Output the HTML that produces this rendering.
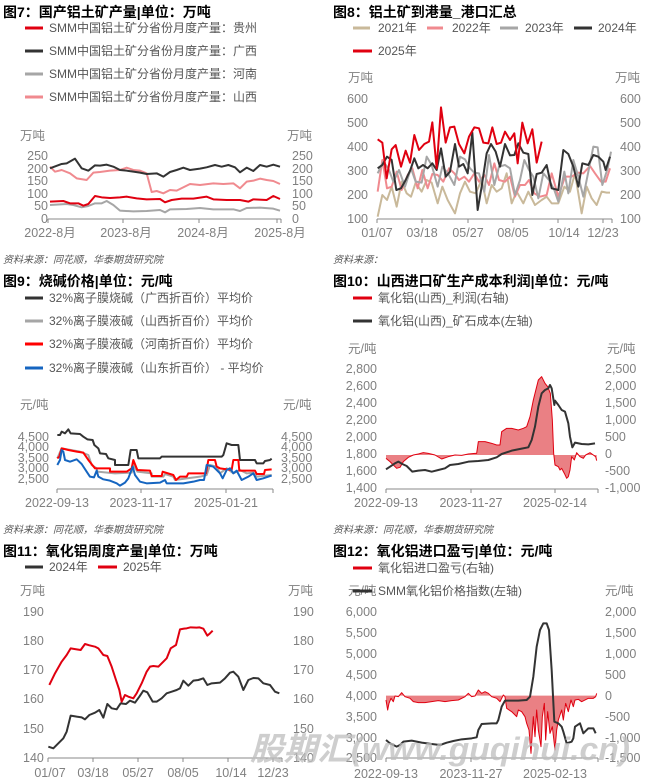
<!DOCTYPE html>
<html><head><meta charset="utf-8"><style>
body{margin:0;background:#fff}
svg{display:block}
text{font-family:"Liberation Sans","Noto Sans CJK SC",sans-serif}
.t{font-size:14px;font-weight:bold;fill:#000}
.l{font-size:12px;fill:#555}
.a{font-size:12.5px;fill:#808080}
.s{font-size:10px;fill:#555;font-style:italic}
polyline{fill:none;stroke-width:2;vector-effect:non-scaling-stroke;stroke-linejoin:round}
.ax{stroke:#888;stroke-width:1;vector-effect:non-scaling-stroke;fill:none}
</style></head><body>
<svg width="650" height="782" viewBox="0 0 650 782" xmlns="http://www.w3.org/2000/svg">
<!-- ===== Chart 7 ===== -->
<text class="t" x="3" y="17">图7：国产铝土矿产量|单位：万吨</text>
<g stroke-width="3">
<line x1="25" y1="28" x2="43" y2="28" stroke="#e00010" stroke-width="3"/>
<line x1="25" y1="51" x2="43" y2="51" stroke="#333" stroke-width="3"/>
<line x1="25" y1="74" x2="43" y2="74" stroke="#a6a6a6" stroke-width="3"/>
<line x1="25" y1="97" x2="43" y2="97" stroke="#f08a8f" stroke-width="3"/>
</g>
<text class="l" x="49" y="32">SMM中国铝土矿分省份月度产量：贵州</text>
<text class="l" x="49" y="55">SMM中国铝土矿分省份月度产量：广西</text>
<text class="l" x="49" y="78">SMM中国铝土矿分省份月度产量：河南</text>
<text class="l" x="49" y="101">SMM中国铝土矿分省份月度产量：山西</text>
<text class="a" x="20" y="140">万吨</text><text class="a" x="287" y="140">万吨</text>
<g class="a" text-anchor="end"><text x="48" y="160">250</text><text x="48" y="173">200</text><text x="48" y="185">150</text><text x="48" y="198">100</text><text x="48" y="210">50</text><text x="48" y="223">0</text></g>
<g class="a"><text x="292" y="160">250</text><text x="292" y="173">200</text><text x="292" y="185">150</text><text x="292" y="198">100</text><text x="292" y="210">50</text><text x="292" y="223">0</text></g>
<path class="ax" d="M48 219H281M48 219v4M123 219v4M199 219v4M277 219v4M281 219v4"/>
<g class="a" text-anchor="middle"><text x="50" y="237">2022-8月</text><text x="126" y="237">2023-8月</text><text x="203" y="237">2024-8月</text><text x="280" y="237">2025-8月</text></g>
<g transform="scale(0.33333)">
<polyline stroke="#a6a6a6" points="150,615 200,612 220,615 245,622 265,618 285,610 305,610 320,603 340,615 360,632 400,634 440,633 480,630 495,637 510,628 560,627 600,624 640,628 700,628 720,633 740,624 780,623 820,626 840,632"/>
<polyline stroke="#f08a8f" points="150,500 165,515 185,510 210,520 230,535 260,540 280,518 300,516 330,512 360,510 380,503 400,510 420,512 440,520 455,576 470,573 490,580 510,570 530,572 570,552 600,555 640,550 670,552 700,550 720,565 740,545 760,542 780,536 800,540 820,543 840,552"/>
<polyline stroke="#333" points="150,505 185,492 200,490 225,476 245,505 265,512 285,496 300,497 320,494 340,500 360,510 380,512 400,515 420,518 440,522 470,520 490,530 510,516 530,510 550,503 570,510 600,506 620,502 645,495 665,500 685,495 705,502 720,517 740,503 760,513 780,495 800,500 820,494 840,500"/>
<polyline stroke="#e00010" points="150,605 190,603 210,610 235,610 250,617 265,612 285,588 305,592 330,594 360,592 380,590 410,595 440,598 480,597 495,607 515,600 545,596 580,596 620,590 640,598 680,600 720,600 745,605 760,598 800,600 820,588 840,597"/>
</g>
<text class="s" x="3" y="263">资料来源：同花顺，华泰期货研究院</text>

<!-- ===== Chart 8 ===== -->
<text class="t" x="333" y="17">图8：铝土矿到港量_港口汇总</text>
<line x1="353" y1="28" x2="370" y2="28" stroke="#c9b99a" stroke-width="3"/><text class="l" x="378" y="32">2021年</text>
<line x1="427" y1="28" x2="443" y2="28" stroke="#f08a8f" stroke-width="3"/><text class="l" x="452" y="32">2022年</text>
<line x1="500" y1="28" x2="518" y2="28" stroke="#a6a6a6" stroke-width="3"/><text class="l" x="525" y="32">2023年</text>
<line x1="574" y1="28" x2="592" y2="28" stroke="#333" stroke-width="3"/><text class="l" x="598" y="32">2024年</text>
<line x1="353" y1="51" x2="372" y2="51" stroke="#e00010" stroke-width="3"/><text class="l" x="378" y="55">2025年</text>
<text class="a" x="348" y="82">万吨</text><text class="a" x="615" y="82">万吨</text>
<g class="a" text-anchor="end"><text x="368" y="103">600</text><text x="368" y="127">500</text><text x="368" y="151">400</text><text x="368" y="175">300</text><text x="368" y="199">200</text><text x="368" y="223">100</text></g>
<g class="a"><text x="620" y="103">600</text><text x="620" y="127">500</text><text x="620" y="151">400</text><text x="620" y="175">300</text><text x="620" y="199">200</text><text x="620" y="223">100</text></g>
<path class="ax" d="M377 219H612M377 219v4M422 219v4M468 219v4M513 219v4M558 219v4M603 219v4M612 219v4"/>
<g class="a" text-anchor="middle"><text x="377" y="237">01/07</text><text x="422" y="237">03/18</text><text x="468" y="237">05/27</text><text x="513" y="237">08/05</text><text x="564" y="237">10/14</text><text x="603" y="237">12/23</text></g>
<g transform="translate(325,0) scale(0.33333)">
<polyline stroke="#c9b99a" points="158,650 172,585 186,600 200,560 215,620 230,545 245,580 258,590 272,548 290,575 305,540 320,548 338,610 352,560 368,600 390,640 405,580 420,545 435,575 452,580 470,540 485,610 500,555 515,575 530,565 545,520 560,610 575,575 595,610 610,575 630,615 650,600 665,590 680,610 700,610 718,560 735,575 750,520 770,640 785,560 800,595 815,615 830,575 845,578 855,578"/>
<polyline stroke="#f08a8f" points="158,575 172,480 186,565 200,560 215,515 230,570 248,525 262,505 278,565 292,510 308,565 322,522 338,525 355,545 372,505 388,520 402,540 418,530 432,545 448,520 462,545 478,525 492,555 508,490 522,540 540,545 555,530 570,590 585,555 600,555 612,540 628,580 645,590 665,585 680,520 700,590 720,530 740,530 760,518 775,520 795,498 810,520 828,545 842,545 855,505"/>
<polyline stroke="#a6a6a6" points="158,520 175,485 190,505 205,545 222,510 240,560 258,505 272,545 290,548 305,470 320,495 338,560 352,500 370,522 388,555 405,470 420,478 435,505 448,518 462,520 478,575 492,465 508,555 522,500 540,495 555,505 570,585 585,540 598,480 612,510 625,530 640,595 655,520 672,540 688,570 700,605 718,515 730,580 745,480 760,530 775,590 790,515 805,440 818,442 832,555 848,505 858,455"/>
<polyline stroke="#333" points="158,505 172,495 186,470 200,480 214,570 228,565 242,540 256,510 268,475 280,505 294,495 308,505 322,490 335,510 348,445 362,530 375,515 390,432 402,500 415,492 428,520 442,398 458,630 470,560 485,460 498,432 512,455 525,500 540,432 555,466 568,465 580,430 595,458 610,462 622,585 635,522 650,518 665,495 680,565 700,570 715,450 730,462 745,500 760,560 772,490 790,495 805,465 820,470 835,485 842,510 855,470"/>
<polyline stroke="#e00010" points="158,418 172,428 185,535 200,448 212,435 228,500 242,452 255,488 268,405 282,450 298,432 312,425 322,367 335,505 348,322 362,428 375,382 388,380 402,432 418,460 432,410 448,382 462,385 475,428 490,430 502,382 515,432 528,428 540,395 555,420 568,400 578,490 592,368 608,430 622,388 635,488 650,425"/>
</g>
<text class="s" x="333" y="263">资料来源：</text>

<!-- ===== Chart 9 ===== -->
<text class="t" x="3" y="286">图9：烧碱价格|单位：元/吨</text>
<line x1="25" y1="298" x2="43" y2="298" stroke="#333" stroke-width="3"/><text class="l" x="49" y="302">32%离子膜烧碱（广西折百价）平均价</text>
<line x1="25" y1="321" x2="43" y2="321" stroke="#a6a6a6" stroke-width="3"/><text class="l" x="49" y="325">32%离子膜液碱（山西折百价）平均价</text>
<line x1="25" y1="344" x2="43" y2="344" stroke="#f00" stroke-width="3"/><text class="l" x="49" y="348">32%离子膜液碱（河南折百价）平均价</text>
<line x1="25" y1="368" x2="43" y2="368" stroke="#1565c0" stroke-width="3"/><text class="l" x="49" y="372">32%离子膜液碱（山东折百价）  - 平均价</text>
<text class="a" x="20" y="409">元/吨</text><text class="a" x="283" y="409">元/吨</text>
<g class="a" text-anchor="end"><text x="49" y="441">4,500</text><text x="49" y="451">4,000</text><text x="49" y="462">3,500</text><text x="49" y="472">3,000</text><text x="49" y="483">2,500</text></g>
<g class="a"><text x="281" y="441">4,500</text><text x="281" y="451">4,000</text><text x="281" y="462">3,500</text><text x="281" y="472">3,000</text><text x="281" y="483">2,500</text></g>
<path class="ax" d="M57 489H273M57 489v4M141 489v4M226 489v4M273 489v4"/>
<g class="a" text-anchor="middle"><text x="57" y="507">2022-09-13</text><text x="141" y="507">2023-11-17</text><text x="226" y="507">2025-01-21</text></g>
<g transform="translate(0,260) scale(0.33333)">
<polyline stroke="#a6a6a6" points="172,595 185,565 240,575 265,585 275,615 290,625 292,635 345,640 395,638 400,615 412,635 455,640 455,650 490,650 495,642 520,650 525,660 560,655 600,650 620,645 630,615 650,620 660,640 680,625 700,640 720,630 740,640 760,638 770,650 815,645"/>
<polyline stroke="#333" points="172,525 180,525 185,515 195,520 205,508 212,520 240,522 250,530 262,538 278,540 283,555 295,565 300,580 318,582 325,595 345,600 345,615 385,615 392,570 410,570 415,595 480,595 485,590 620,590 665,590 670,585 680,550 695,555 715,555 720,600 765,600 770,610 790,610 795,603 810,600 815,596"/>
<polyline stroke="#f00" points="172,595 178,590 185,565 205,570 230,575 250,578 265,600 285,625 330,625 330,635 380,635 395,625 400,600 412,630 450,632 455,648 485,648 488,635 520,645 528,660 540,650 560,650 565,640 618,640 625,600 645,600 650,620 660,625 695,630 700,600 715,600 718,632 765,632 770,642 792,642 795,630 815,628"/>
<polyline stroke="#1565c0" points="172,615 180,600 185,570 190,575 195,600 210,605 230,598 245,612 260,635 270,650 282,652 290,632 295,650 310,658 330,662 350,670 360,677 375,668 385,655 398,620 405,645 420,665 440,670 480,668 495,660 500,670 550,670 580,665 600,660 612,660 620,615 640,620 660,640 668,655 680,630 690,625 700,640 710,632 725,660 745,650 760,640 770,660 790,655 810,648 815,647"/>
</g>
<text class="s" x="3" y="533">资料来源：同花顺，华泰期货研究院</text>

<!-- ===== Chart 10 ===== -->
<text class="t" x="333" y="286">图10：山西进口矿生产成本利润|单位：元/吨</text>
<line x1="353" y1="298" x2="372" y2="298" stroke="#e00010" stroke-width="3"/><text class="l" x="378" y="302">氧化铝(山西)_利润(右轴)</text>
<line x1="353" y1="321" x2="372" y2="321" stroke="#333" stroke-width="3"/><text class="l" x="378" y="325">氧化铝(山西)_矿石成本(左轴)</text>
<text class="a" x="348" y="353">元/吨</text><text class="a" x="607" y="353">元/吨</text>
<g class="a" text-anchor="end"><text x="377" y="373">2,800</text><text x="377" y="390">2,600</text><text x="377" y="407">2,400</text><text x="377" y="424">2,200</text><text x="377" y="441">2,000</text><text x="377" y="458">1,800</text><text x="377" y="475">1,600</text><text x="377" y="492">1,400</text></g>
<g class="a"><text x="605" y="373">2,500</text><text x="605" y="390">2,000</text><text x="605" y="407">1,500</text><text x="605" y="424">1,000</text><text x="605" y="441">500</text><text x="605" y="458">0</text><text x="605" y="475">-500</text><text x="605" y="492">-1,000</text></g>
<path class="ax" d="M386 489H598M386 489v4M471 489v4M555 489v4M598 489v4"/>
<g class="a" text-anchor="middle"><text x="386" y="507">2022-09-13</text><text x="471" y="507">2023-11-27</text><text x="555" y="507">2025-02-14</text></g>
<g transform="translate(325,260) scale(0.33333)">
<polygon fill="#ea8084" points="183,585 183,595 195,605 205,615 215,625 225,622 235,605 250,592 265,585 280,582 295,578 310,580 330,585 350,597 370,590 390,585 410,586 430,582 450,580 455,580 460,545 480,545 500,550 515,555 525,555 530,515 545,505 560,505 580,510 595,505 605,500 615,470 625,420 640,360 650,350 660,370 668,380 676,400 682,480 686,580 690,615 700,620 705,630 710,625 718,640 725,655 730,650 735,630 740,590 748,600 755,578 765,590 775,595 782,585 795,578 805,585 812,590 815,602 815,585"/>
<polyline stroke="#e00010" stroke-width="1" style="stroke-width:1" points="183,595 195,605 205,615 215,625 225,622 235,605 250,592 265,585 280,582 295,578 310,580 330,585 350,597 370,590 390,585 410,586 430,582 450,580 455,580 460,545 480,545 500,550 515,555 525,555 530,515 545,505 560,505 580,510 595,505 605,500 615,470 625,420 640,360 650,350 660,370 668,380 676,400 682,480 686,580 690,615 700,620 705,630 710,625 718,640 725,655 730,650 735,630 740,590 748,600 755,578 765,590 775,595 782,585 795,578 805,585 812,590 815,602"/>
<polyline stroke="#333" points="183,628 195,620 210,610 220,605 232,612 245,618 262,635 280,632 300,630 320,635 340,630 360,625 375,615 400,612 430,605 460,603 490,600 515,592 530,582 560,572 590,566 610,562 620,540 630,500 640,440 650,400 660,390 670,385 675,375 680,385 688,435 690,422 700,435 710,450 720,455 730,490 735,530 742,562 750,548 770,552 790,553 810,550"/>
</g>
<text class="s" x="333" y="533">资料来源：同花顺，华泰期货研究院</text>

<!-- ===== Chart 11 ===== -->
<text class="t" x="3" y="556">图11：氧化铝周度产量|单位：万吨</text>
<line x1="25" y1="567" x2="43" y2="567" stroke="#333" stroke-width="3"/><text class="l" x="49" y="571">2024年</text>
<line x1="98" y1="567" x2="117" y2="567" stroke="#e00010" stroke-width="3"/><text class="l" x="123" y="571">2025年</text>
<text class="a" x="20" y="595">万吨</text><text class="a" x="288" y="595">万吨</text>
<g class="a"><text x="23" y="616">190</text><text x="23" y="645">180</text><text x="23" y="674">170</text><text x="23" y="703">160</text><text x="23" y="733">150</text><text x="23" y="762">140</text></g>
<g class="a"><text x="293" y="616">190</text><text x="293" y="645">180</text><text x="293" y="674">170</text><text x="293" y="703">160</text><text x="293" y="733">150</text><text x="293" y="762">140</text></g>
<path class="ax" d="M48 758H282M48 758v4M93 758v4M138 758v4M183 758v4M228 758v4M273 758v4M282 758v4"/>
<g class="a" text-anchor="middle"><text x="50" y="777">01/07</text><text x="93" y="777">03/18</text><text x="138" y="777">05/27</text><text x="183" y="777">08/05</text><text x="231" y="777">10/14</text><text x="273" y="777">12/23</text></g>
<g transform="translate(0,530) scale(0.33333)">
<polyline stroke="#333" points="145,650 160,655 175,640 190,625 200,605 212,557 230,560 245,562 255,568 268,555 285,548 298,540 310,563 322,522 335,535 350,538 362,520 378,522 390,512 405,518 418,500 430,482 442,487 458,515 470,515 485,505 500,490 515,485 530,480 540,475 550,452 565,467 580,452 595,450 610,445 622,465 635,460 660,458 675,445 690,428 700,425 715,440 730,480 745,450 760,444 775,445 790,460 810,465 825,485 838,490"/>
<polyline stroke="#e00010" points="148,465 165,430 185,395 200,375 212,355 230,358 242,360 255,342 268,346 285,350 295,355 310,375 322,378 335,410 348,450 358,480 365,515 375,495 385,500 400,505 410,490 425,460 440,425 450,410 460,408 475,410 490,395 500,385 512,355 528,345 540,298 552,296 560,295 572,292 590,293 598,292 610,296 622,317 630,310 638,302"/>
</g>

<!-- ===== Chart 12 ===== -->
<text class="t" x="333" y="556">图12：氧化铝进口盈亏|单位：元/吨</text>
<line x1="353" y1="568" x2="372" y2="568" stroke="#e00010" stroke-width="3"/><text class="l" x="378" y="572">氧化铝进口盈亏(右轴)</text>
<text class="a" x="348" y="595">元/吨</text>
<line x1="353" y1="591" x2="372" y2="591" stroke="#333" stroke-width="3"/><text class="l" x="378" y="595">SMM氧化铝价格指数(左轴)</text>
<text class="a" x="605" y="595">元/吨</text>
<g class="a" text-anchor="end"><text x="377" y="616">6,000</text><text x="377" y="637">5,500</text><text x="377" y="658">5,000</text><text x="377" y="679">4,500</text><text x="377" y="700">4,000</text><text x="377" y="721">3,500</text><text x="377" y="742">3,000</text><text x="377" y="762">2,500</text></g>
<g class="a"><text x="605" y="616">2,000</text><text x="605" y="637">1,500</text><text x="605" y="658">1,000</text><text x="605" y="679">500</text><text x="605" y="700">0</text><text x="605" y="721">-500</text><text x="605" y="742">-1,000</text><text x="605" y="762">-1,500</text></g>
<path class="ax" d="M386 758H598M386 758v4M471 758v4M555 758v4M598 758v4"/>
<g class="a" text-anchor="middle"><text x="386" y="778">2022-09-13</text><text x="471" y="778">2023-11-27</text><text x="555" y="778">2025-02-13</text></g>
<g transform="translate(325,530) scale(0.33333)">
<polygon fill="#ea8084" points="183,497 183,510 188,540 192,520 198,505 205,515 210,498 220,500 230,488 240,500 255,505 265,515 280,518 300,518 320,515 340,512 360,515 380,512 400,510 420,500 430,490 440,500 450,498 460,480 470,490 480,485 490,490 500,500 515,505 525,515 530,505 535,495 540,500 545,535 560,545 575,560 580,540 590,545 600,560 605,580 612,600 618,670 625,560 630,620 635,540 640,600 648,650 652,560 658,520 662,630 668,545 675,610 682,590 690,660 695,600 700,570 710,540 715,570 722,520 730,545 738,510 745,530 750,510 760,508 770,515 790,505 805,505 812,500 815,490 815,497"/>
<polyline stroke="#e00010" style="stroke-width:1" points="183,510 188,540 192,520 198,505 205,515 210,498 220,500 230,488 240,500 255,505 265,515 280,518 300,518 320,515 340,512 360,515 380,512 400,510 420,500 430,490 440,500 450,498 460,480 470,490 480,485 490,490 500,500 515,505 525,515 530,505 535,495 540,500 545,535 560,545 575,560 580,540 590,545 600,560 605,580 612,600 618,670 625,560 630,620 635,540 640,600 648,650 652,560 658,520 662,630 668,545 675,610 682,590 690,660 695,600 700,570 710,540 715,570 722,520 730,545 738,510 745,530 750,510 760,508 770,515 790,505 805,505 812,500 815,490"/>
<polyline stroke="#333" points="183,630 195,640 215,650 225,645 235,635 260,632 290,638 320,642 345,645 365,638 385,633 410,628 440,625 455,622 460,600 470,582 500,580 515,580 520,570 530,530 540,512 580,512 605,510 615,500 625,440 635,350 645,300 655,280 665,280 672,300 680,420 688,575 700,580 710,590 715,605 725,640 740,635 745,625 750,590 765,580 775,610 790,595 805,595 812,610"/>
</g>

<!-- watermark -->
<text x="250" y="760" font-size="32" font-weight="bold" font-style="italic" fill="#bdbdbd" fill-opacity="0.75" textLength="380" lengthAdjust="spacingAndGlyphs">股期汇(www.guqihui.cn)</text>
</svg>
</body></html>
